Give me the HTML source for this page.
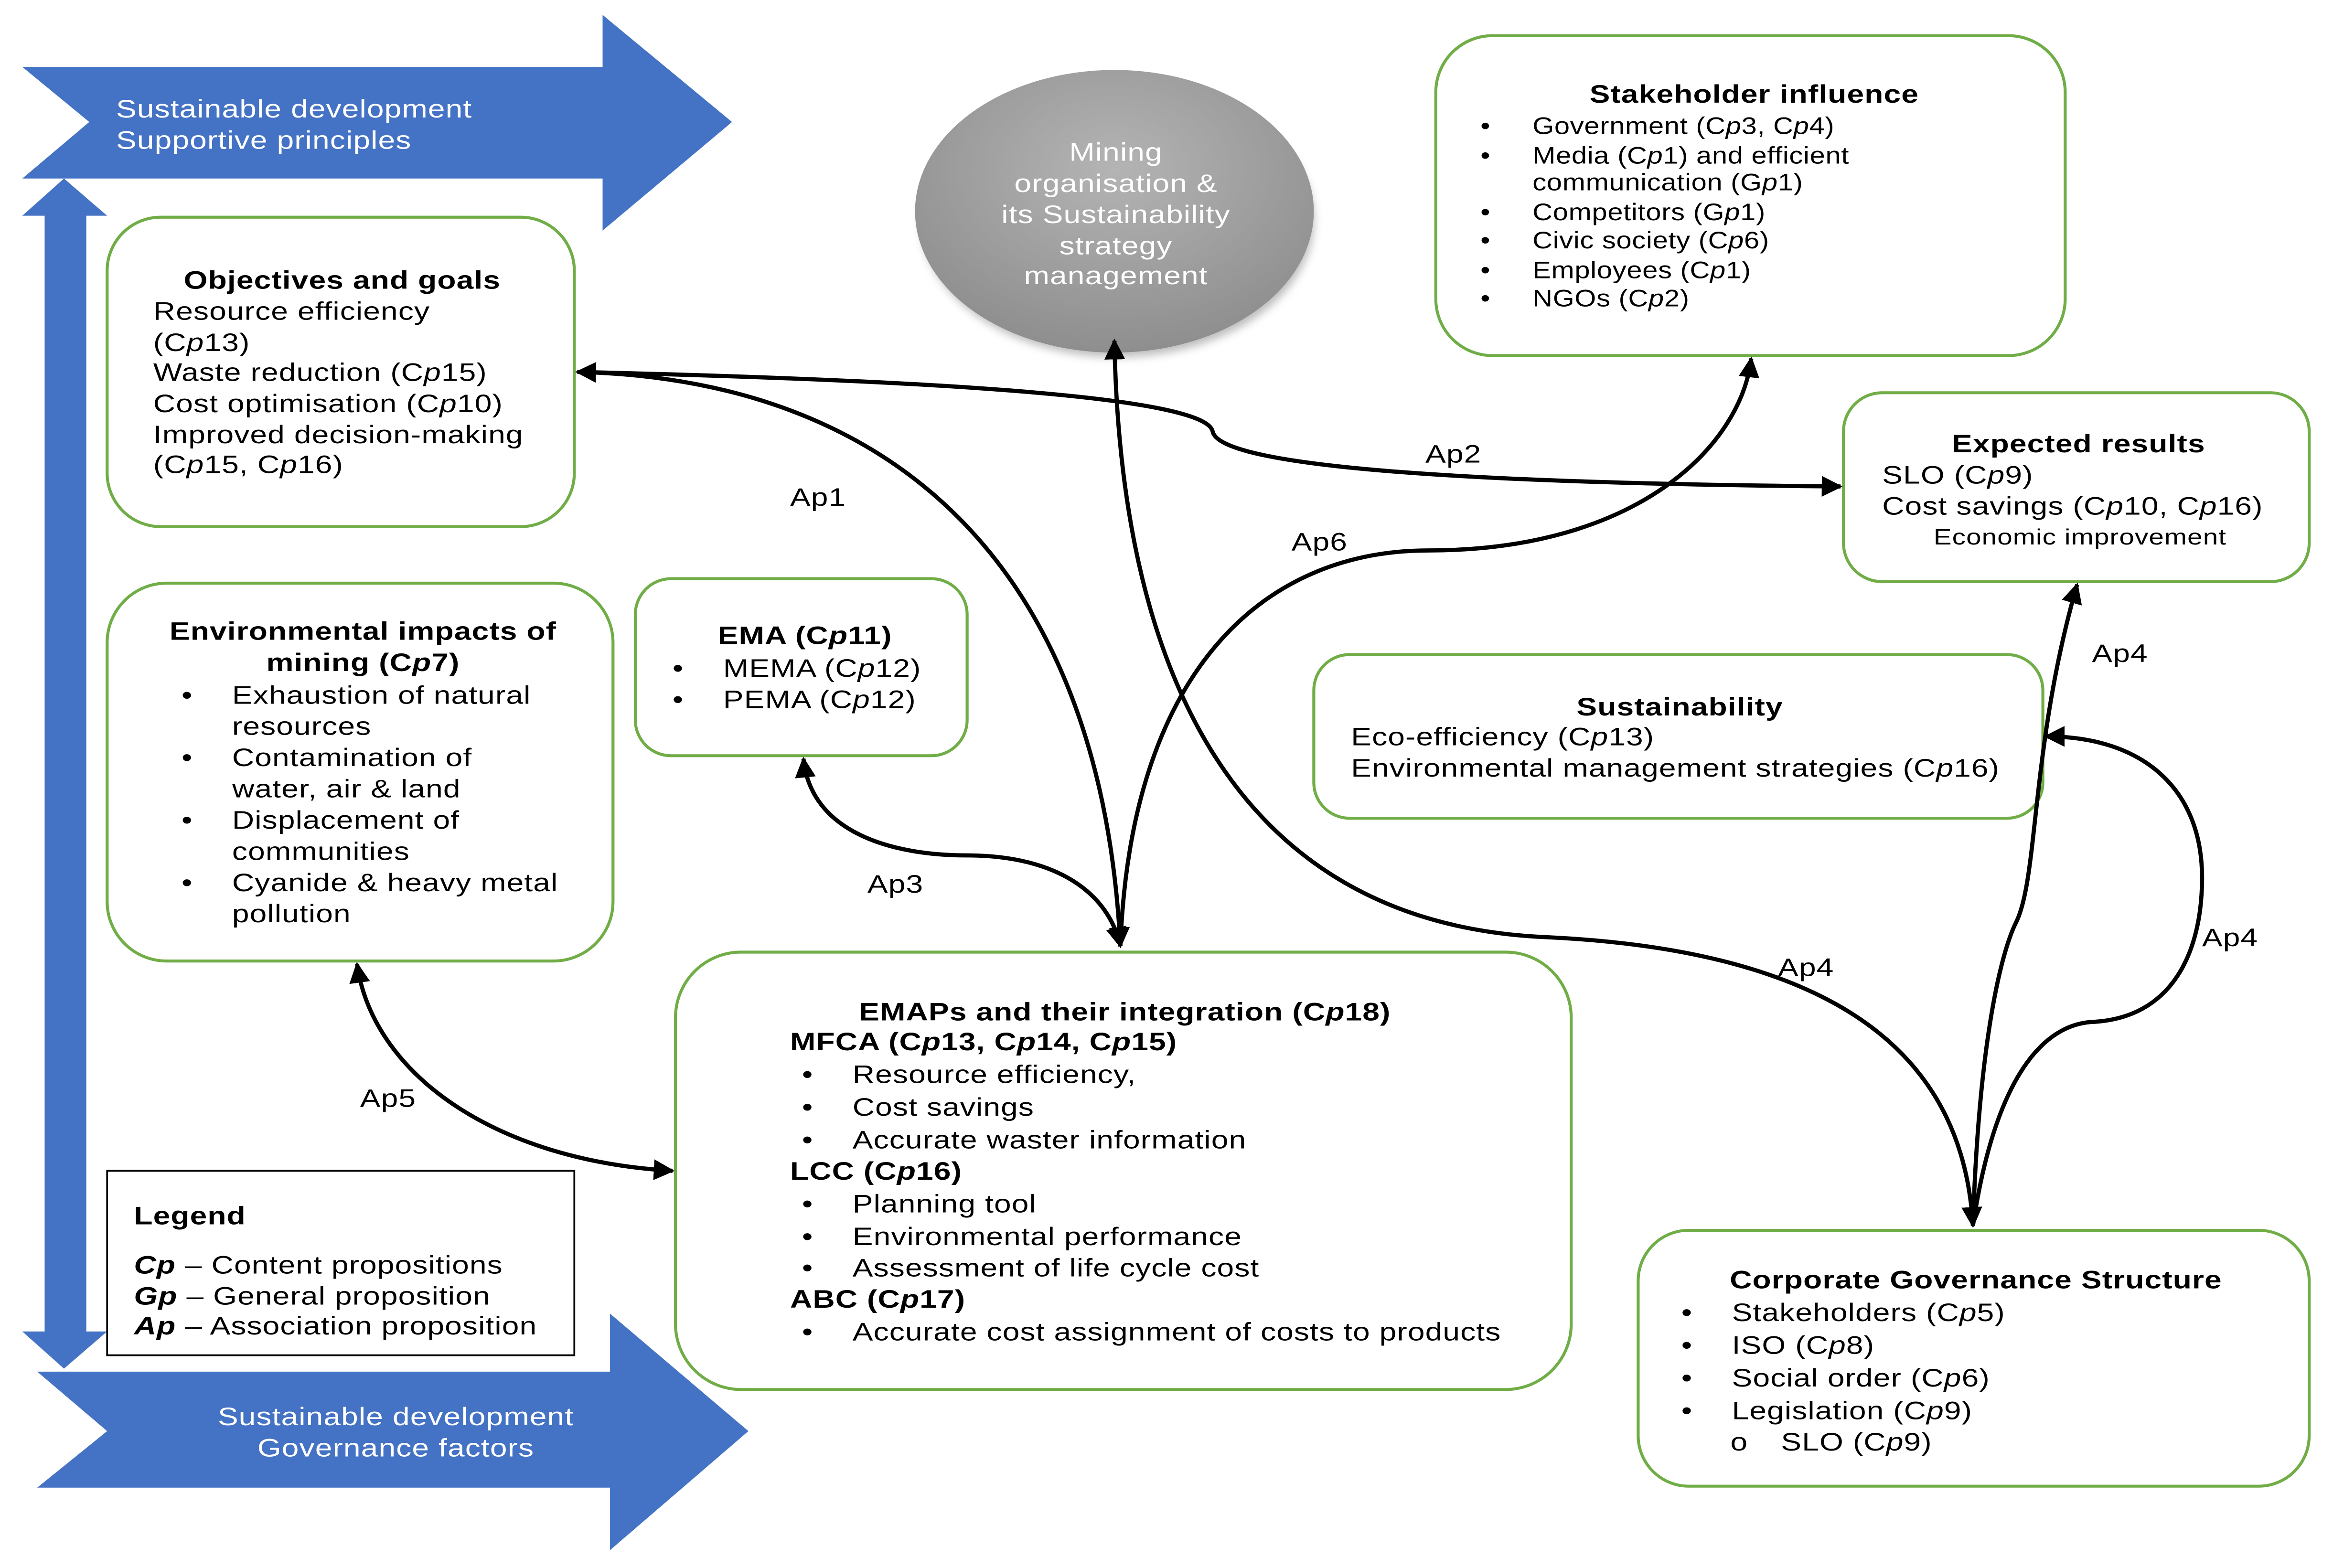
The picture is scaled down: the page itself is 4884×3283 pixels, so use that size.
<!DOCTYPE html>
<html><head><meta charset="utf-8"><style>
html,body{margin:0;padding:0;background:#fff}
svg{display:block}
text{font-family:"Liberation Sans",Arial,sans-serif;font-size:17px;fill:#000;letter-spacing:0.3px;transform-box:fill-box;transform-origin:0 0;transform:scaleX(1.21)}
text.m{transform-origin:50% 0}
.b{font-weight:bold}
.w{fill:#fff}
.i{font-style:italic}
text.s{font-size:16px;letter-spacing:0.2px;transform:scaleX(1.16)}
</style></head><body>
<svg width="4884" height="3283" viewBox="0 0 1568 1054" xmlns="http://www.w3.org/2000/svg">
<defs>
<marker id="ah" viewBox="0 0 10 10" refX="9" refY="5" markerWidth="5" markerHeight="5" orient="auto-start-reverse"><path d="M0,0 L10,5 L0,10 z" fill="#000"/></marker>
<radialGradient id="eg" cx="50%" cy="35%" r="65%"><stop offset="0" stop-color="#b4b4b4"/><stop offset="1" stop-color="#8e8e8e"/></radialGradient>
<filter id="sh" x="-20%" y="-20%" width="140%" height="150%"><feGaussianBlur stdDeviation="3"/></filter>
</defs>

<polygon points="15,45 405,45 405,10 492,82 405,155 405,120 15,120 60,82" fill="#4472C4"/>
<text class="w" x="78" y="79">Sustainable development</text>
<text class="w" x="78" y="100">Supportive principles</text>
<polygon points="43,120 72,145 58,145 58,895 72,895 43,920 15,895 30,895 30,145 15,145" fill="#4472C4"/>
<polygon points="25,922 410,922 410,883 503,962 410,1042 410,1000 25,1000 72,962" fill="#4472C4"/>
<text class="w m" x="266" y="958" text-anchor="middle">Sustainable development</text>
<text class="w m" x="266" y="979" text-anchor="middle">Governance factors</text>

<ellipse cx="751" cy="148" rx="132" ry="92" fill="#777" opacity="0.5" filter="url(#sh)"/>
<ellipse cx="749" cy="142" rx="134" ry="95" fill="url(#eg)"/>
<text class="w m" x="750" y="108" text-anchor="middle">Mining</text>
<text class="w m" x="750" y="129" text-anchor="middle">organisation &amp;</text>
<text class="w m" x="750" y="150" text-anchor="middle">its Sustainability</text>
<text class="w m" x="750" y="171" text-anchor="middle">strategy</text>
<text class="w m" x="750" y="191" text-anchor="middle">management</text>

<g fill="#fff" stroke="#70AD47" stroke-width="2">
<rect x="72" y="146" width="314" height="208" rx="36"/>
<rect x="72" y="392" width="340" height="254" rx="40"/>
<rect x="427" y="389" width="223" height="119" rx="24"/>
<rect x="965" y="24" width="423" height="215" rx="38"/>
<rect x="1239" y="264" width="313" height="127" rx="26"/>
<rect x="883" y="440" width="490" height="110" rx="24"/>
<rect x="454" y="640" width="602" height="294" rx="44"/>
<rect x="1101" y="827" width="451" height="172" rx="34"/>
</g>
<rect x="72" y="787" width="314" height="124" fill="#fff" stroke="#000" stroke-width="1.2"/>

<text class="b m" x="230" y="194" text-anchor="middle">Objectives and goals</text>
<text x="103" y="215">Resource efficiency</text>
<text x="103" y="236">(C<tspan class="i">p</tspan>13)</text>
<text x="103" y="256">Waste reduction (C<tspan class="i">p</tspan>15)</text>
<text x="103" y="277">Cost optimisation (C<tspan class="i">p</tspan>10)</text>
<text x="103" y="298">Improved  decision-making</text>
<text x="103" y="318">(C<tspan class="i">p</tspan>15, C<tspan class="i">p</tspan>16)</text>

<text class="b m" x="244" y="430" text-anchor="middle">Environmental impacts of</text>
<text class="b m" x="244" y="451" text-anchor="middle">mining (C<tspan class="i">p</tspan>7)</text>
<text x="122" y="473">•</text><text x="156" y="473">Exhaustion of natural</text><text x="156" y="494">resources</text>
<text x="122" y="515">•</text><text x="156" y="515">Contamination of</text><text x="156" y="536">water, air &amp; land</text>
<text x="122" y="557">•</text><text x="156" y="557">Displacement of</text><text x="156" y="578">communities</text>
<text x="122" y="599">•</text><text x="156" y="599">Cyanide &amp; heavy metal</text><text x="156" y="620">pollution</text>

<text class="b m" x="541" y="433" text-anchor="middle">EMA (C<tspan class="i">p</tspan>11)</text>
<text x="452" y="455">•</text><text x="486" y="455">MEMA (C<tspan class="i">p</tspan>12)</text>
<text x="452" y="476">•</text><text x="486" y="476">PEMA (C<tspan class="i">p</tspan>12)</text>

<text class="b m" x="1179" y="69" text-anchor="middle">Stakeholder influence</text>
<text class="s" x="995" y="90">•</text><text class="s" x="1030" y="90">Government (C<tspan class="i">p</tspan>3, C<tspan class="i">p</tspan>4)</text>
<text class="s" x="995" y="110">•</text><text class="s" x="1030" y="110">Media (C<tspan class="i">p</tspan>1) and efficient</text>
<text class="s" x="1030" y="128">communication (G<tspan class="i">p</tspan>1)</text>
<text class="s" x="995" y="148">•</text><text class="s" x="1030" y="148">Competitors (G<tspan class="i">p</tspan>1)</text>
<text class="s" x="995" y="167">•</text><text class="s" x="1030" y="167">Civic society (C<tspan class="i">p</tspan>6)</text>
<text class="s" x="995" y="187">•</text><text class="s" x="1030" y="187">Employees (C<tspan class="i">p</tspan>1)</text>
<text class="s" x="995" y="206">•</text><text class="s" x="1030" y="206">NGOs (C<tspan class="i">p</tspan>2)</text>

<text class="b m" x="1397" y="304" text-anchor="middle">Expected results</text>
<text x="1265" y="325">SLO (C<tspan class="i">p</tspan>9)</text>
<text x="1265" y="346">Cost savings (C<tspan class="i">p</tspan>10, C<tspan class="i">p</tspan>16)</text>
<text class="m" x="1398" y="366" text-anchor="middle" style="font-size:15px">Economic improvement</text>

<text class="b m" x="1129" y="481" text-anchor="middle">Sustainability</text>
<text x="908" y="501">Eco-efficiency (C<tspan class="i">p</tspan>13)</text>
<text x="908" y="522">Environmental management strategies (C<tspan class="i">p</tspan>16)</text>

<text class="b m" x="756" y="686" text-anchor="middle">EMAPs and their integration (C<tspan class="i">p</tspan>18)</text>
<text class="b" x="531" y="706">MFCA (C<tspan class="i">p</tspan>13, C<tspan class="i">p</tspan>14, C<tspan class="i">p</tspan>15)</text>
<text x="539" y="728">•</text><text x="573" y="728">Resource efficiency,</text>
<text x="539" y="750">•</text><text x="573" y="750">Cost savings</text>
<text x="539" y="772">•</text><text x="573" y="772">Accurate waster information</text>
<text class="b" x="531" y="793">LCC (C<tspan class="i">p</tspan>16)</text>
<text x="539" y="815">•</text><text x="573" y="815">Planning tool</text>
<text x="539" y="837">•</text><text x="573" y="837">Environmental performance</text>
<text x="539" y="858">•</text><text x="573" y="858">Assessment of life cycle cost</text>
<text class="b" x="531" y="879">ABC (C<tspan class="i">p</tspan>17)</text>
<text x="539" y="901">•</text><text x="573" y="901">Accurate cost assignment of costs to products</text>

<text class="b" x="90" y="823">Legend</text>
<text x="90" y="856"><tspan class="b i">Cp</tspan> – Content propositions</text>
<text x="90" y="877"><tspan class="b i">Gp</tspan> – General proposition</text>
<text x="90" y="897"><tspan class="b i">Ap</tspan> – Association proposition</text>

<text class="b m" x="1328" y="866" text-anchor="middle">Corporate Governance Structure</text>
<text x="1130" y="888">•</text><text x="1164" y="888">Stakeholders (C<tspan class="i">p</tspan>5)</text>
<text x="1130" y="910">•</text><text x="1164" y="910">ISO (C<tspan class="i">p</tspan>8)</text>
<text x="1130" y="932">•</text><text x="1164" y="932">Social order (C<tspan class="i">p</tspan>6)</text>
<text x="1130" y="954">•</text><text x="1164" y="954">Legislation (C<tspan class="i">p</tspan>9)</text>
<text x="1163" y="975">o</text><text x="1197" y="975">SLO (C<tspan class="i">p</tspan>9)</text>

<g fill="none" stroke="#000" stroke-width="2.8">
<path d="M388,250 C600,255 740,380 753,636" marker-start="url(#ah)" marker-end="url(#ah)"/>
<path d="M388,250 C600,255 810,265 815,290 C820,315 1000,325 1237,327" marker-end="url(#ah)"/>
<path d="M753,636 C760,450 850,370 960,370 C1100,370 1170,300 1177,241" marker-end="url(#ah)"/>
<path d="M1326,824 C1320,720 1250,640 1040,630 C800,620 752,400 749,229" marker-start="url(#ah)" marker-end="url(#ah)"/>
<path d="M540,510 C545,560 600,575 650,575 C710,575 745,600 753,636" marker-start="url(#ah)" marker-end="url(#ah)"/>
<path d="M240,648 C250,720 330,780 452,787" marker-start="url(#ah)" marker-end="url(#ah)"/>
<path d="M1326,824 C1330,700 1345,640 1355,620 C1370,590 1365,500 1396,393" marker-end="url(#ah)"/>
<path d="M1326,824 C1340,730 1370,690 1405,687 C1460,685 1480,640 1480,590 C1480,530 1440,495 1375,495" marker-end="url(#ah)"/>
</g>
<text x="531" y="340">Ap1</text>
<text x="958" y="311">Ap2</text>
<text x="583" y="600">Ap3</text>
<text x="868" y="370">Ap6</text>
<text x="242" y="744">Ap5</text>
<text x="1195" y="656">Ap4</text>
<text x="1406" y="445">Ap4</text>
<text x="1480" y="636">Ap4</text>
</svg>
</body></html>
